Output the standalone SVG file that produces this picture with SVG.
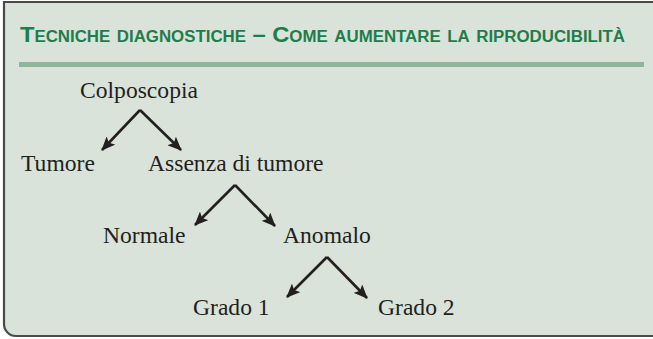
<svg xmlns="http://www.w3.org/2000/svg" width="653" height="339" viewBox="0 0 653 339">
<defs>
<style>
.title{font-family:"Liberation Sans",Arial,sans-serif;font-weight:bold;font-variant:small-caps;font-size:22.5px;fill:#1f7d4b}
.lbl{font-family:"Liberation Serif","Times New Roman",serif;font-size:23.6px;fill:#231f20}
.edge{stroke:#231f20;stroke-width:2.6;fill:none;marker-end:url(#ah)}
</style>
<marker id="ah" viewBox="0 0 14 12" refX="13" refY="6" markerWidth="14" markerHeight="12" markerUnits="userSpaceOnUse" orient="auto">
<path d="M0,0 L14,6 L0,12 L3,6 Z" fill="#231f20"/>
</marker>
</defs>
<rect width="653" height="339" fill="#ffffff"/>
<path d="M660,2 H4 V324 A12,12 0 0 0 16,336 H660" fill="#d9e3da" stroke="#4a4a4a" stroke-width="2.2"/>
<text class="title" x="20" y="42" textLength="605" lengthAdjust="spacingAndGlyphs">Tecniche diagnostiche – Come aumentare la riproducibilità</text>
<rect x="19" y="62" width="625" height="5" fill="#8fb59b"/>
<g id="n-colposcopia"><text class="lbl" x="80" y="98">Colposcopia</text></g>
<g id="n-tumore"><text class="lbl" x="21" y="171">Tumore</text></g>
<g id="n-assenza"><text class="lbl" x="148" y="171">Assenza di tumore</text></g>
<g id="n-normale"><text class="lbl" x="103" y="243">Normale</text></g>
<g id="n-anomalo"><text class="lbl" x="283" y="243">Anomalo</text></g>
<g id="n-grado1"><text class="lbl" x="193" y="315">Grado 1</text></g>
<g id="n-grado2"><text class="lbl" x="378" y="315">Grado 2</text></g>
<g id="connectors">
<path class="edge" d="M140,110 L102,150"/>
<path class="edge" d="M140,110 L181,150"/>
<path class="edge" d="M235,185 L195,225"/>
<path class="edge" d="M235,185 L275,226"/>
<path class="edge" d="M327,257 L287,297"/>
<path class="edge" d="M327,257 L367,298"/>
</g>
</svg>
